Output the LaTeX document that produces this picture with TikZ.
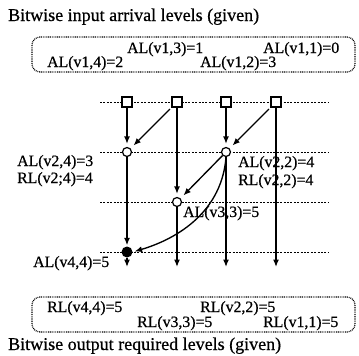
\documentclass[tikz,border=0pt]{standalone}
\usepackage{fontspec}
\setmainfont{Liberation Serif}[FakeBold=0.6]
\usetikzlibrary{arrows.meta}
\begin{document}
\begin{tikzpicture}[x=1pt,y=-1pt,
  lbl/.style={anchor=base west,inner sep=0pt,font=\fontsize{15.8}{18}\selectfont},
  heading/.style={anchor=base west,inner sep=0pt,font=\fontsize{18}{21}\selectfont},
  givenbox/.style={draw,line width=1.2pt,dash pattern=on 0.9pt off 0.9pt,rounded corners=8pt},
  level/.style={draw,line width=0.9pt,dash pattern=on 2pt off 1.4pt},
  inbit/.style={draw,fill=white,line width=1.2pt,minimum size=10pt,inner sep=0pt},
  vtx/.style={circle,draw,fill=white,line width=1.2pt,minimum size=9pt,inner sep=0pt,
    path picture={\fill (path picture bounding box.center) circle (0.9pt);}},
  outvtx/.style={circle,fill=black,minimum size=11pt,inner sep=0pt},
  wire/.style={line width=1.35pt,-{Latex[length=7.5pt,width=6pt]}}]
\useasboundingbox (0,0) rectangle (359,356);

% input levels
\node[heading] (tin) at (8,21) {Bitwise input arrival levels (given)};
\draw[givenbox] (32,37) rectangle (355,72);
\node[lbl] (a13) at (127,53) {AL(v1,3)=1};
\node[lbl] (a11) at (263,53) {AL(v1,1)=0};
\node[lbl] (a14) at (47,67) {AL(v1,4)=2};
\node[lbl] (a12) at (200,67) {AL(v1,2)=3};

% output levels
\draw[givenbox] (32,297) rectangle (355,332);
\node[lbl] (r44) at (47,312) {RL(v4,4)=5};
\node[lbl] (r22) at (200,312) {RL(v2,2)=5};
\node[lbl] (r33) at (137,327) {RL(v3,3)=5};
\node[lbl] (r11) at (263,327) {RL(v1,1)=5};
\node[heading] (tout) at (8,350) {Bitwise output required levels (given)};

% level lines
\foreach \i/\y in {1/102,2/152,3/202,4/252}{
  \coordinate (w\i) at (100,\y);
  \coordinate (e\i) at (328,\y);
  \draw[level] (w\i) -- (e\i);
}

% node labels
\node[lbl] (l24a) at (17,166) {AL(v2,4)=3};
\node[lbl] (l24r) at (17,183) {RL(v2;4)=4};
\node[lbl] (l22a) at (238,167) {AL(v2,2)=4};
\node[lbl] (l22r) at (238,185) {RL(v2,2)=4};
\node[lbl] (l33a) at (183,217) {AL(v3,3)=5};
\node[lbl] (l44a) at (33,267) {AL(v4,4)=5};

% nodes
\node[inbit] (s4) at (127,102) {};
\node[inbit] (s3) at (177,102) {};
\node[inbit] (s2) at (226,102) {};
\node[inbit] (s1) at (276,102) {};
\node[vtx] (v24) at (127,152) {};
\node[vtx] (v22) at (226,152) {};
\node[vtx] (v33) at (177,202) {};
\node[outvtx] (v44) at (127,252) {};
\coordinate (o4) at (127,267);
\coordinate (o3) at (177,267);
\coordinate (o2) at (226,267);
\coordinate (o1) at (276,267);

% connectors
\draw[wire,shorten >=3pt] (s4) -- (v24);
\draw[wire,shorten <=2pt,shorten >=4pt] (s3) -- (v24);
\draw[wire,shorten >=3pt] (s3) -- (v33);
\draw[wire,shorten >=3pt] (s2) -- (v22);
\draw[wire,shorten <=2pt,shorten >=4pt] (s1) -- (v22);
\draw[wire] (s1) -- (o1);
\draw[wire,shorten >=4pt] (v22) -- (v33);
\draw[wire,shorten >=2pt] (v22.south) .. controls (222,210) and (180,238) .. (v44.east);
\draw[wire] (v22) -- (o2);
\draw[wire,shorten >=1pt] (v24) -- (v44);
\draw[wire] (v33) -- (o3);
\draw[wire] (v44) -- (o4);
\end{tikzpicture}
\end{document}
